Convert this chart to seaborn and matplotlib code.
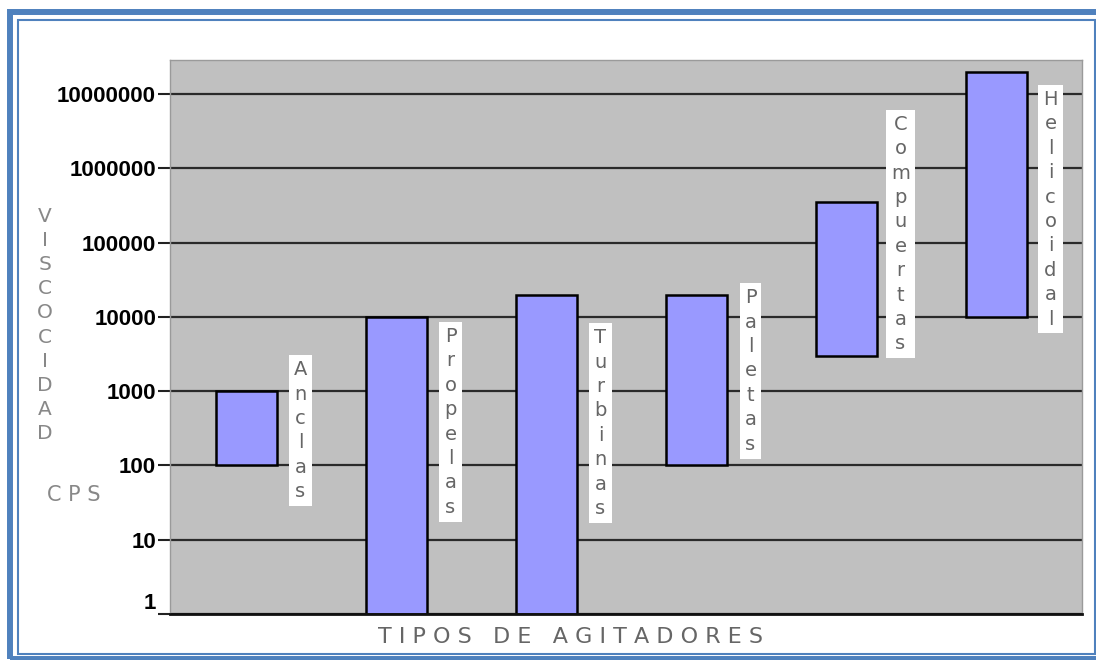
import numpy as np
import seaborn as sns
import matplotlib.pyplot as plt
import matplotlib.transforms as mtransforms
from matplotlib.patches import Rectangle
from matplotlib.ticker import FixedLocator, NullLocator

# datos (rango de viscosidad en cps por tipo de agitador)
agitadores = ['Anclas', 'Propelas', 'Turbinas', 'Paletas', 'Compuertas', 'Helicoidal']
visc_min = [100, 1, 1, 100, 3000, 10000]
visc_max = [1000, 10000, 20000, 20000, 350000, 20000000]
y_ticks = [1, 10, 100, 1000, 10000, 100000, 1000000, 10000000]
y_tick_labels = ['1', '10', '100', '1000', '10000', '100000', '1000000', '10000000']

# layout
W, H = 1096, 660
label_top = [0.458, 0.518, 0.516, 0.588, 0.901, 0.946]   # axes fraction
label_dx = 0.36
gray_txt = '#666666'

heights = np.subtract(visc_max, visc_min)

fig = plt.figure(figsize=(W / 100, H / 100), dpi=100)
fig.patch.set_facecolor('white')
ax = fig.add_axes([170 / W, (H - 614) / H, 912 / W, 554 / H])
ax.set_facecolor('#c0c0c0')

sns.barplot(x=agitadores, y=heights, bottom=visc_min, color='#9999ff',
            saturation=1, edgecolor='black', linewidth=1.8, width=0.41, ax=ax)

ax.set_yscale('log')
ax.set_ylim(1, 2.87e7)
ax.set_xlim(-0.51, 5.57)
ax.yaxis.set_major_locator(FixedLocator(y_ticks))
ax.yaxis.set_minor_locator(NullLocator())
ax.set_yticklabels(y_tick_labels, fontfamily='Liberation Sans',
                   fontweight='bold', fontsize=16)
ax.get_yticklabels()[0].set_va('bottom')
ax.tick_params(axis='y', length=9, width=1.5, color='#222222', pad=1)
ax.tick_params(axis='x', bottom=False, labelbottom=False)
ax.set_xlabel('')
ax.set_ylabel('')
ax.yaxis.grid(True, color='#2a2a2a', lw=1.6)
ax.set_axisbelow(True)

for s in ['top', 'right', 'left']:
    ax.spines[s].set_color('#9a9a9a')
    ax.spines[s].set_linewidth(1)
ax.spines['bottom'].set_color('#111111')
ax.spines['bottom'].set_linewidth(2)

# etiquetas verticales junto a cada barra
trans = mtransforms.blended_transform_factory(ax.transData, ax.transAxes)
for i, name in enumerate(agitadores):
    ax.text(i + label_dx, label_top[i], '\n'.join(name), transform=trans,
            ha='center', va='top', multialignment='center',
            fontsize=14, color=gray_txt, linespacing=1.36, zorder=5,
            bbox=dict(boxstyle='square,pad=0.25', fc='white', ec='none'))

# titulo del eje y
fig.text(45 / W, 1 - 207 / H, '\n'.join('VISCOCIDAD'), ha='center', va='top',
         fontsize=14.5, color='#888888', linespacing=1.34)
fig.text(74 / W, 1 - 495 / H, 'C P S', ha='center', va='center',
         fontsize=15, color='#888888')

# titulo del eje x
fig.text(570 / W, 1 - 637 / H, 'T I P O S   D E   A G I T A D O R E S',
         ha='center', va='center', fontsize=16, color='#666666')

# marco azul
fig.add_artist(Rectangle((10 / W, (H - 659) / H), 1100 / W, 647 / H,
                         transform=fig.transFigure, fill=False,
                         ec='#4f81bd', lw=4.3))
fig.add_artist(Rectangle((17.5 / W, (H - 654) / H), 1077 / W, 634 / H,
                         transform=fig.transFigure, fill=False,
                         ec='#4f81bd', lw=1.5))

plt.savefig('out.png', dpi=100)
plt.close()
